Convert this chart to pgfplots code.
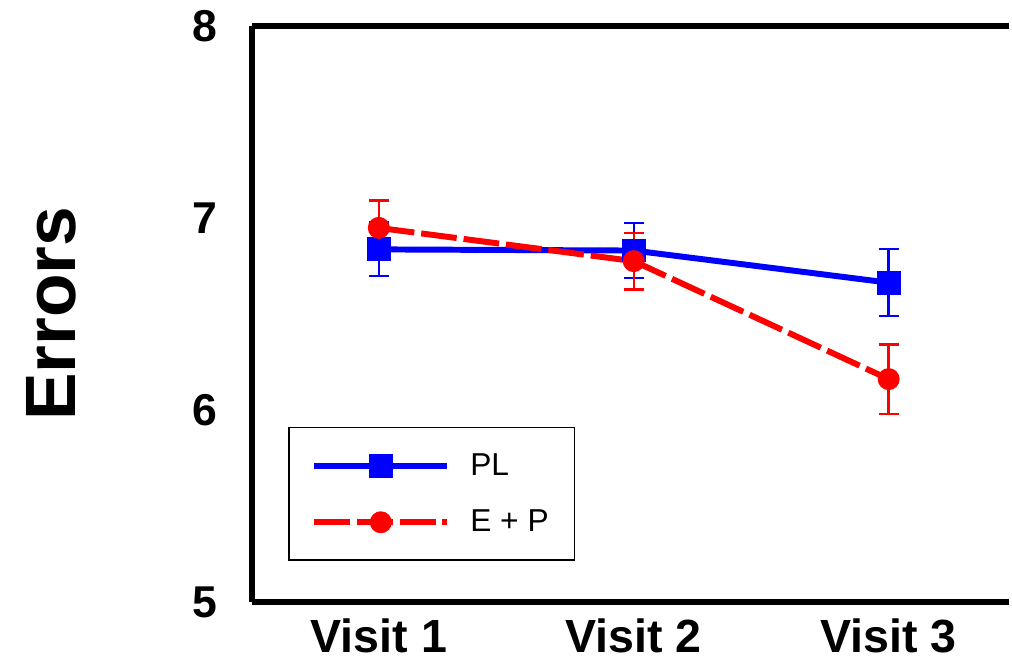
\documentclass[border=0pt]{standalone}
\usepackage{fontspec}
\setmainfont{Liberation Sans}
\usepackage{pgfplots}
\pgfplotsset{compat=1.18}

\begin{document}
\begin{tikzpicture}
\begin{axis}[
  scale only axis,
  width=381bp, height=290bp,
  xmin=0.501, xmax=3.472,
  ymin=5, ymax=8,
  axis x line*=box,
  axis y line*=left,
  xtick={1,2,3},
  xticklabels={Visit 1, Visit 2, Visit 3},
  ytick={5,6,7,8},
  major tick length=0pt,
  /pgf/number format/assume math mode=true,
  xticklabel style={font=\fontsize{23.5}{23.5}\selectfont\bfseries,
    inner xsep=0pt, inner ysep=4.5bp, yshift=-3.5bp},
  yticklabel style={font=\fontsize{22.5}{22.5}\selectfont\bfseries,
    inner xsep=2bp, inner ysep=5bp, xshift=-15bp},
  ylabel={\rule{0pt}{38bp}Errors},
  every axis y label/.style={at={(rel axis cs:0,0.5)}, rotate=90,
    anchor=south, inner sep=0pt, yshift=88bp,
    font=\fontsize{36}{36}\selectfont\bfseries},
  axis line style={line width=3bp},
  legend cell align=left,
  legend style={at={(0.0486,0.0707)}, anchor=south west,
    draw=black, line width=1bp,
    font=\fontsize{16}{16}\selectfont,
    inner xsep=11bp, inner ysep=11bp,
    column sep=8bp, row sep=12bp},
  legend image code/.code={%
    \draw[mark repeat=2, mark phase=2, #1]
      plot coordinates {(0bp,0bp) (33.5bp,0bp) (67bp,0bp)};},
]

\addplot[blue, line width=3bp, mark=square*, mark size=4.5bp,
  mark options={solid},
  error bars/.cd, y dir=both, y explicit,
  error bar style={line width=1.2bp, solid, blue},
  error mark options={rotate=90, mark size=5bp, line width=1.2bp, blue, solid}]
  coordinates {
    (1,6.836) +- (0,0.140)
    (2,6.830) +- (0,0.143)
    (3,6.663) +- (0,0.174)
  };
\addlegendentry{PL}

\addplot[red, line width=3bp, dash pattern=on 18bp off 3.5bp,
  mark=*, mark size=4bp, mark options={solid},
  error bars/.cd, y dir=both, y explicit,
  error bar style={line width=1.2bp, solid, red},
  error mark options={rotate=90, mark size=5bp, line width=1.2bp, red, solid}]
  coordinates {
    (1,6.948) +- (0,0.142)
    (2,6.775) +- (0,0.147)
    (3,6.161) +- (0,0.180)
  };
\addlegendentry{E + P}

\end{axis}
\end{tikzpicture}
\end{document}
